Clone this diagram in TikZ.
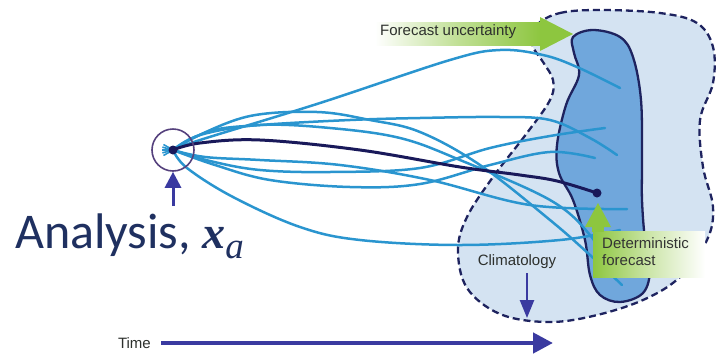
\documentclass[tikz,border=0pt]{standalone}
\usepackage{fontspec}
\setmainfont{Liberation Sans}
\newfontfamily\calibri{Carlito}
\newfontfamily\serifm{Liberation Serif}
\usetikzlibrary{arrows.meta}
\definecolor{enscol}{RGB}{42,149,207}
\definecolor{ctrlcol}{RGB}{25,25,90}
\definecolor{navy}{RGB}{30,35,95}
\definecolor{arrowblue}{RGB}{58,58,160}
\definecolor{circcol}{RGB}{85,65,125}
\definecolor{outerfill}{RGB}{212,227,242}
\definecolor{innerfill}{RGB}{112,167,220}
\definecolor{fgreen}{RGB}{141,198,63}
\definecolor{lbltext}{RGB}{45,48,45}
\definecolor{anatext}{RGB}{31,48,96}
\tikzset{
  ensline/.style={draw=enscol, line width=2.5pt, line cap=round},
  ctrlline/.style={draw=ctrlcol, line width=3pt, line cap=round},
  outerblob/.style={draw=navy, fill=outerfill, line width=2.3pt, dash pattern=on 7pt off 4pt},
  innerblob/.style={draw=navy, fill=innerfill, line width=2.3pt},
  lbl/.style={font=\fontsize{15}{17}\selectfont, text=lbltext, inner sep=0pt},
  bluearrow/.style={draw=arrowblue, -{Triangle[length=16pt,width=16pt]}},
}
\begin{document}
\begin{tikzpicture}[x=1pt,y=-1pt]
\useasboundingbox (0,0) rectangle (716,357);
% coordinates
\coordinate (o) at (173,150);
\coordinate (det) at (597,193);
% blobs
\path[outerblob] plot[smooth cycle, tension=0.6] coordinates {
 (537,25) (560,13) (600,10) (660,13) (697,23) (713,47) (713,83) (700,120)
 (703,167) (713,207) (707,240) (680,277) (643,300) (593,316) (547,322)
 (500,314) (467,288) (458,250) (467,217) (493,177) (527,133) (550,100)
 (553,80) (543,62) (532,44)};
\path[innerblob] plot[smooth cycle, tension=0.6] coordinates {
 (573,37) (593,30) (620,37) (633,57) (641,100) (642,160) (642,200) (645,240)
 (650,270) (643,293) (620,302) (600,295) (590,275) (585,240) (573,200)
 (559,173) (557,145) (566,105) (579,75) (574,53)};
% ensemble members
\draw[ensline] plot[smooth, tension=0.6] coordinates {(o) (200,140) (320,103) (450,60) (500,50) (543,55) (577,67) (620,88)};
\draw[ensline] plot[smooth, tension=0.6] coordinates {(o) (195,137) (250,116) (317,112) (370,120) (420,132) (480,165) (550,220) (590,255) (622,285)};
\draw[ensline] plot[smooth, tension=0.6] coordinates {(o) (200,135) (260,125) (330,128) (400,138) (460,160) (550,200) (590,235) (610,270)};
\draw[ensline] plot[smooth, tension=0.6] coordinates {(o) (210,131) (260,125) (350,120) (420,118) (500,117) (550,120) (590,138) (617,155)};
\draw[ensline] plot[smooth, tension=0.6] coordinates {(o) (210,161) (260,170) (330,172) (420,168) (490,148) (550,136) (605,128)};
\draw[ensline] plot[smooth, tension=0.6] coordinates {(o) (215,165) (270,180) (350,187) (420,184) (490,165) (550,152) (595,158)};
\draw[ensline] plot[smooth, tension=0.6] coordinates {(o) (205,157) (260,160) (340,165) (430,180) (530,205) (627,209)};
\draw[ensline] plot[smooth, tension=0.6] coordinates {(o) (187,168) (233,197) (300,227) (360,240) (460,245) (560,240) (620,230)};
% tails inside the circle
\foreach \a in {150,165,180,195,210}
  \draw[enscol, line width=1.6pt] (o) -- ++(\a:11);
% control forecast
\draw[ctrlline] plot[smooth, tension=0.6] coordinates {(o) (200,143) (260,140) (360,150) (460,167) (520,175) (557,181) (det)};
\fill[ctrlcol] (det) circle (4.5pt);
\fill[ctrlcol] (o) circle (4.5pt);
% analysis circle and arrow
\node[circle, draw=circcol, line width=1.6pt, minimum size=42pt, inner sep=0pt] (circ) at (o) {};
\coordinate (anaarr) at (173,206);
\draw[bluearrow, line width=3pt] (anaarr) -- (circ.south);
\node[anchor=base west, inner sep=0pt, text=anatext] (ana) at (15,248)
  {{\calibri\fontsize{50}{52}\selectfont Analysis, }{\serifm\bfseries\itshape\fontsize{46}{48}\selectfont x}\raisebox{-10pt}{\serifm\itshape\fontsize{37}{38}\selectfont a}};
% forecast uncertainty
\shade[left color=white, right color=fgreen, middle color=fgreen!55] (375,22) rectangle (541,45);
\fill[fgreen] (540,17) -- (573,34) -- (540,51) -- cycle;
\node[lbl, anchor=west] (fu) at (380,32) {Forecast uncertainty};
% deterministic forecast
\shade[left color=fgreen, right color=white, middle color=fgreen!45] (593,231) rectangle (705,277);
\fill[fgreen] (592,225) rectangle (604,232);
\fill[fgreen] (585,227) -- (598,203) -- (611,227) -- cycle;
\node[lbl, anchor=north west, align=left, text=black!80] (df) at (602,237) {Deterministic\\forecast};
% climatology
\node[lbl] (clim) at (517,262) {Climatology};
\coordinate (climend) at (527,318);
\draw[bluearrow, line width=2.5pt, -{Triangle[length=18pt,width=14pt]}] (clim.south -| climend) ++(0,4) -- (climend);
% time
\node[lbl, anchor=east] (time) at (151,343) {Time};
\coordinate (tend) at (553,343);
\draw[bluearrow, line width=4.5pt, -{Triangle[length=20pt,width=20pt]}] ([xshift=10pt]time.east) -- (tend);
\end{tikzpicture}
\end{document}
